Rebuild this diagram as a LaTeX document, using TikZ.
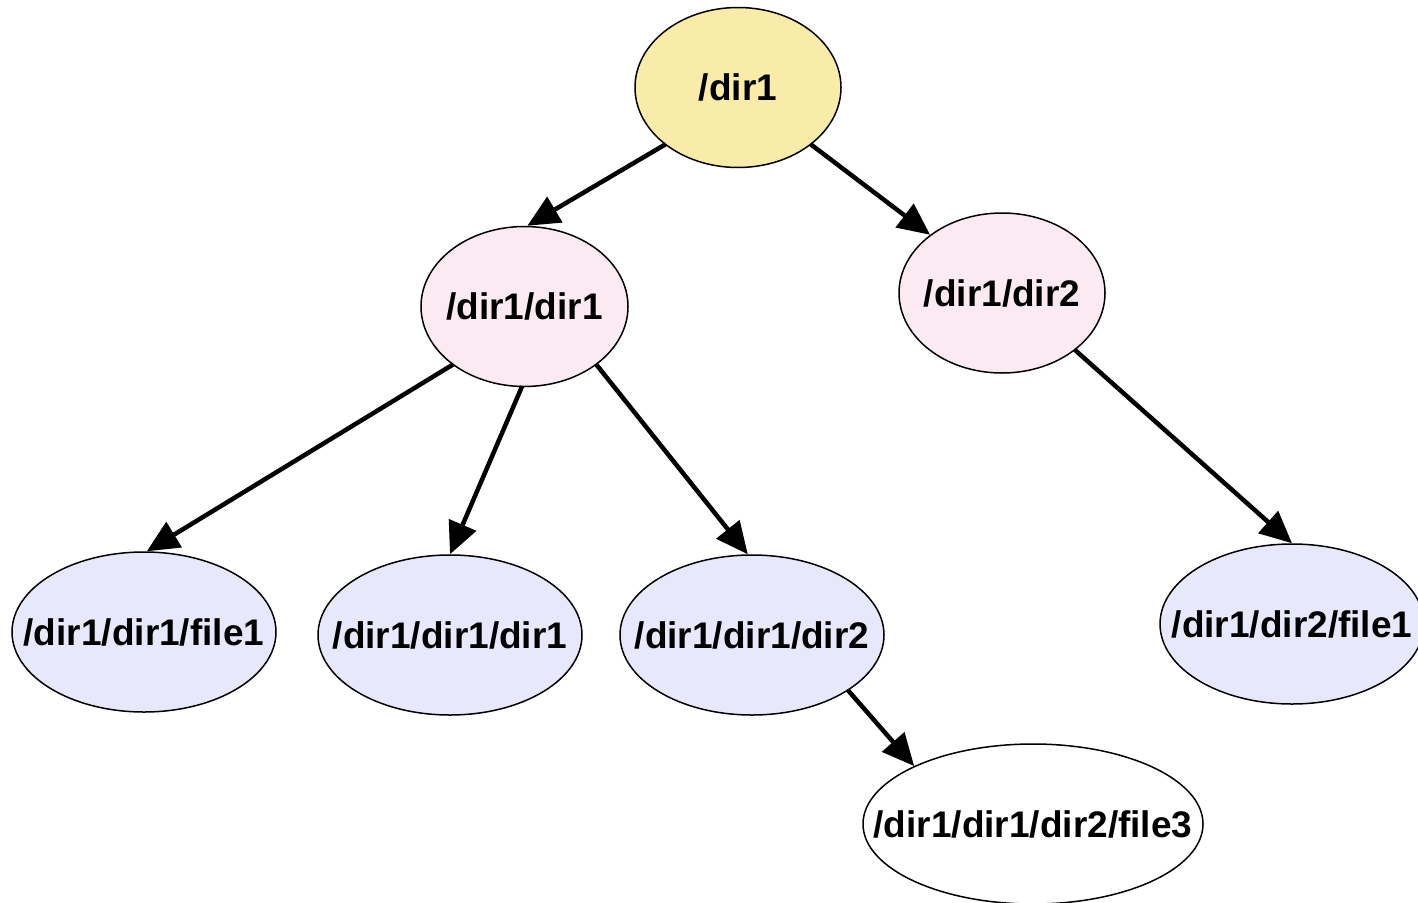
\documentclass[tikz,border=0pt]{standalone}
\usepackage{fontspec}
\setmainfont{Liberation Sans}
\usetikzlibrary{shapes.geometric,arrows.meta}
\definecolor{rootfill}{HTML}{F9EBAA}
\definecolor{dirfill}{HTML}{FCEAF2}
\definecolor{leaffill}{HTML}{E8E8FC}
% label set in a zero-size box so the ellipse keeps its given size
\newcommand{\entrylabel}[1]{\raisebox{-0.36em}[0pt][0pt]{\makebox[0pt]{#1}}}
\tikzset{
  entry/.style={ellipse, draw=black, line width=1.5pt, inner sep=0pt,
    minimum height=160pt, font=\fontsize{37}{40}\selectfont\bfseries},
  edge/.style={line width=4.5pt, -{Triangle[length=32pt,width=29pt]}, shorten <=-1pt}
}
\begin{document}
\begin{tikzpicture}[x=1pt,y=-1pt]
\useasboundingbox (0,0) rectangle (1418,902);
\node[entry, fill=rootfill, minimum width=206pt] (r) at (738,87.5) {\entrylabel{/dir1}};
\node[entry, fill=dirfill, minimum width=207pt] (d1) at (524.5,306.5) {\entrylabel{/dir1/dir1}};
\node[entry, fill=dirfill, minimum width=206pt] (d2) at (1002,293) {\entrylabel{/dir1/dir2}};
\node[entry, fill=leaffill, minimum width=264pt] (d1f1) at (144,632) {\entrylabel{/dir1/dir1/file1}};
\node[entry, fill=leaffill, minimum width=264pt] (d1d1) at (450,635) {\entrylabel{/dir1/dir1/dir1}};
\node[entry, fill=leaffill, minimum width=264pt] (d1d2) at (752,635) {\entrylabel{/dir1/dir1/dir2}};
\node[entry, fill=leaffill, minimum width=264pt] (d2f1) at (1292,624) {\entrylabel{/dir1/dir2/file1}};
\node[entry, fill=white, minimum width=340pt] (f3) at (1033,824) {\entrylabel{/dir1/dir1/dir2/file3}};

\draw[edge] (r.-142) -- (d1.88);
\draw[edge] (r.-38) -- (d2.141.6);
\draw[edge] (d1.-141) -- (d1f1.88.6);
\draw[edge] (d1.-92) -- (d1d1.90);
\draw[edge] (d1.-39) -- (d1d2.93);
\draw[edge] (d2.-38) -- (d2f1.90);
\draw[edge] (d1d2.-30.8) -- (f3.154.4);
\end{tikzpicture}
\end{document}
